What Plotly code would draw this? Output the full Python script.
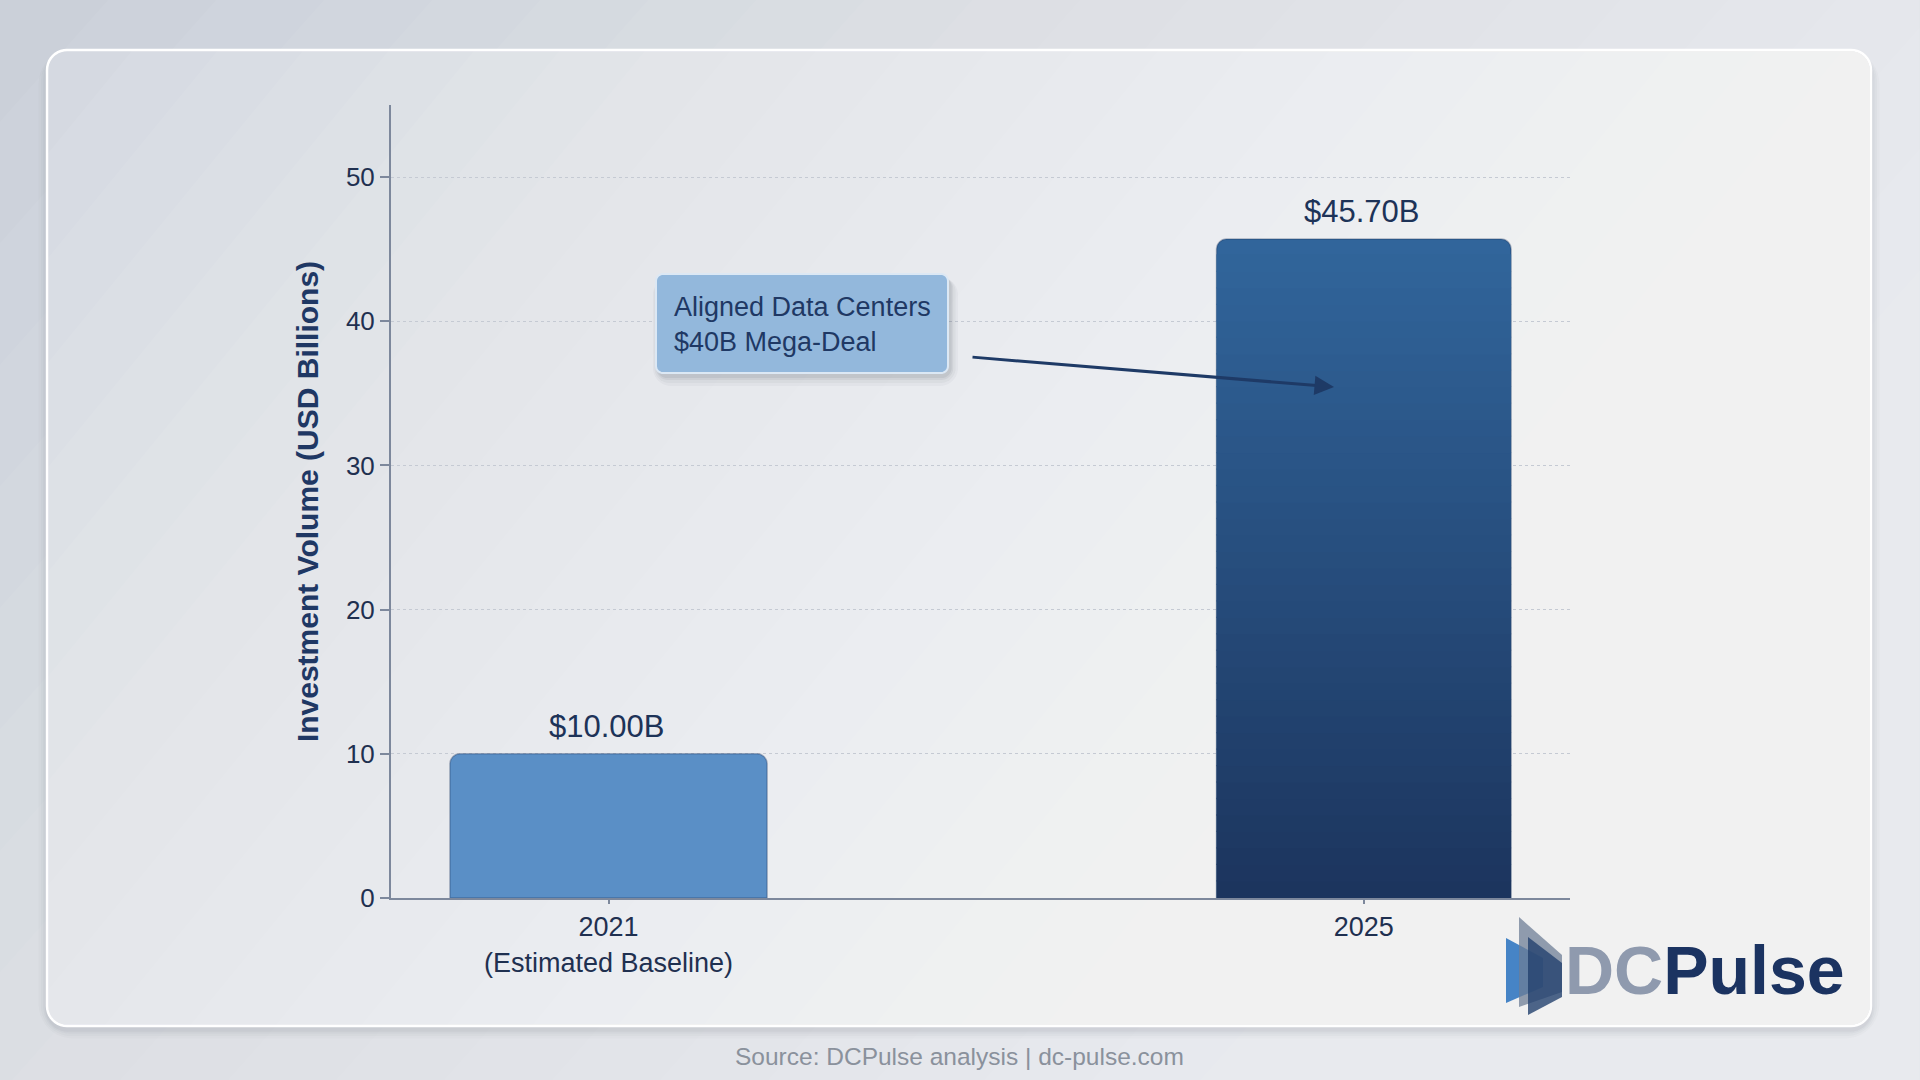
import plotly.graph_objects as go
import math

# ---------------- data ----------------
categories = ["2021<br>(Estimated Baseline)", "2025"]
values = [10.00, 45.70]
value_labels = ["$10.00B", "$45.70B"]
bar_colors = ["#5A8FC6", "#31659B"]          # colour at top of each bar
bar_bottom_colors = [None, "#1C355E"]        # bottom colour for vertical gradient (None = flat)
bar_widths = [0.42, 0.39]
y_ticks = [0, 10, 20, 30, 40, 50]
y_title = "Investment Volume (USD Billions)"
callout_text = "Aligned Data Centers<br>$40B Mega-Deal"
source_text = "Source: DCPulse analysis | dc-pulse.com"

FONT = "Liberation Sans, Arial, Helvetica, sans-serif"

# ---------------- geometry helpers (pixel -> paper) ----------------
W, H = 1920, 1080
L, R, T, B = 391, 1570, 105, 898


def px(x):
    return (x - L) / (R - L)


def py(y):
    return (B - y) / (B - T)


def path_from_pixels(points):
    pts = [(px(x), py(y)) for x, y in points]
    s = f"M {pts[0][0]:.5f},{pts[0][1]:.5f} "
    s += " ".join(f"L {a:.5f},{b:.5f}" for a, b in pts[1:])
    return s + " Z"


def rrect_pts(x0, y0, x1, y1, r, n=10):
    pts = []
    corners = [(x1 - r, y0 + r, -90, 0), (x1 - r, y1 - r, 0, 90),
               (x0 + r, y1 - r, 90, 180), (x0 + r, y0 + r, 180, 270)]
    for cx, cy, a0, a1 in corners:
        for k in range(n + 1):
            a = math.radians(a0 + (a1 - a0) * k / n)
            pts.append((cx + r * math.cos(a), cy + r * math.sin(a)))
    return pts


def clip_halfplane(pts, f, c):
    """keep part of polygon where f(p) >= c"""
    out = []
    m = len(pts)
    for i in range(m):
        p, q = pts[i], pts[(i + 1) % m]
        fp, fq = f(p) - c, f(q) - c
        if fp >= 0:
            out.append(p)
        if (fp >= 0) != (fq >= 0):
            t = fp / (fp - fq)
            out.append((p[0] + t * (q[0] - p[0]), p[1] + t * (q[1] - p[1])))
    return out


def hex2rgb(h):
    h = h.lstrip("#")
    return tuple(int(h[i:i + 2], 16) for i in (0, 2, 4))


shapes = []


def add_poly(points, fill, layer="below", line=None):
    if len(points) < 3:
        return
    shapes.append(dict(type="path", path=path_from_pixels(points), xref="paper", yref="paper",
                       fillcolor=fill, line=line or dict(width=0), layer=layer))


# ---- page background gradient (diagonal) ----
page = [(0, 0), (W, 0), (W, H), (0, H)]
page_f = lambda p: p[0] / W * 0.8 + p[1] / H * 0.4
NP = 20
for i in range(1, NP + 1):
    add_poly(clip_halfplane(page, page_f, 0.9 * i / NP), "rgba(255,255,255,0.055)")

# ---- card shadow ----
for k, a in [(14, 0.025), (10, 0.03), (6, 0.04), (3, 0.05)]:
    add_poly(rrect_pts(47 - k * 0.6, 50 - k * 0.3 + 4, 1871 + k * 0.6, 1026 + k * 0.6 + 4, 20 + k),
             f"rgba(70,80,100,{a})")

# ---- card with gradient ----
card = rrect_pts(47, 50, 1871, 1026, 20)
add_poly(card, "#D5D9E1", line=dict(color="#FFFFFF", width=2.5))
card_f = lambda p: (p[0] - 47) / 1824 * 0.8 + (p[1] - 50) / 976 * 0.35
NC = 24
for i in range(1, NC + 1):
    add_poly(clip_halfplane(card, card_f, 0.9 * i / NC), "rgba(255,255,255,0.068)")

# ---- callout box (soft shadow + box) ----
for k, a in [(10, 0.03), (7, 0.04), (4, 0.06), (2, 0.07)]:
    add_poly(rrect_pts(656 - k * 0.5 + 2, 274 + 3, 948 + k * 0.8 + 2, 373 + k + 3, 8 + k),
             f"rgba(30,40,60,{a})", layer="above")
add_poly(rrect_pts(656, 274, 948, 373, 7), "#93B8DC", layer="above",
         line=dict(color="#DCE8F4", width=2))

# ---- logo icon ----
add_poly([(1506, 938), (1543, 958), (1543, 987), (1506, 1003)], "rgba(60,125,195,0.95)", layer="above")
add_poly([(1519, 917), (1562, 955), (1562, 992), (1519, 1007)], "rgba(110,125,150,0.75)", layer="above")
add_poly([(1528, 937), (1562, 963), (1562, 997), (1528, 1015)], "rgba(35,65,110,0.80)", layer="above")

# ---- vertical gradient on bars: opaque bands derived from the bar values ----
NB = 40
for i, (v, w, top, bot) in enumerate(zip(values, bar_widths, bar_colors, bar_bottom_colors)):
    if bot is None:
        continue
    ct, cb = hex2rgb(top), hex2rgb(bot)
    for j in range(NB - 1):
        t = j / (NB - 1)
        col = tuple(round(cb[k] + (ct[k] - cb[k]) * t) for k in range(3))
        shapes.append(dict(type="rect", xref="x", yref="y", x0=i - w / 2, x1=i + w / 2,
                           y0=v * j / NB, y1=v * (j + 1) / NB + v * 0.002,
                           fillcolor=f"rgb{col}", line=dict(width=0), layer="above"))

fig = go.Figure()

fig.add_trace(go.Bar(
    x=categories,
    y=values,
    width=bar_widths,
    marker=dict(color=bar_colors, line=dict(color="rgba(20,40,80,0.30)", width=1.5)),
    hoverinfo="skip",
))

# value labels above bars
for i, (v, t) in enumerate(zip(values, value_labels)):
    fig.add_annotation(x=i, y=v, text=t, showarrow=False, yanchor="bottom", yshift=8, xshift=-2,
                       font=dict(family=FONT, size=31, color="#1D3358"))

fig.update_layout(shapes=shapes)

# callout text
fig.add_annotation(xref="paper", yref="paper", x=px(672), y=py(324), xanchor="left", yanchor="middle",
                   text=callout_text, showarrow=False, align="left",
                   font=dict(family=FONT, size=27, color="#1F3864"))
# arrow
fig.add_annotation(xref="paper", yref="paper", x=px(1334), y=py(387), ax=971 - 1334, ay=357 - 387,
                   axref="pixel", ayref="pixel", text="", showarrow=True, arrowhead=2, arrowsize=1.3,
                   arrowwidth=3, arrowcolor="#1E3A66")

# logo text
fig.add_annotation(xref="paper", yref="paper", x=px(1563), y=py(970), xanchor="left", yanchor="middle",
                   text="<b><span style='color:#8F9AAE'>DC</span><span style='color:#1B3361'>Pulse</span></b>",
                   showarrow=False, font=dict(family=FONT, size=68))

# source
fig.add_annotation(xref="paper", yref="paper", x=px(959), y=py(1056), xanchor="center", yanchor="middle",
                   text=source_text, showarrow=False,
                   font=dict(family=FONT, size=24.5, color="#8A919C"))

fig.update_layout(
    width=W, height=H,
    margin=dict(l=L, r=W - R, t=T, b=H - B, pad=0),
    paper_bgcolor="#CBD0D9",
    plot_bgcolor="rgba(0,0,0,0)",
    showlegend=False,
    font=dict(family=FONT, color="#1F3050"),
    xaxis=dict(
        type="category", range=[-0.288, 1.273],
        showline=True, linecolor="#7D889C", linewidth=2,
        ticks="outside", ticklen=4, tickcolor="#7D889C", tickwidth=2,
        tickfont=dict(size=27, color="#1F3050"), showgrid=False, zeroline=False,
    ),
    yaxis=dict(
        range=[0, 55], tickvals=y_ticks,
        showline=True, linecolor="#7D889C", linewidth=2,
        ticks="outside", ticklen=9, tickcolor="#7D889C", tickwidth=2,
        tickfont=dict(size=26, color="#1F3050"),
        showgrid=True, gridcolor="#C5CAD3", gridwidth=1, griddash="dot",
        zeroline=False,
        title=dict(text=f"<b>{y_title}</b>", standoff=18,
                   font=dict(size=30, color="#1F3864", family=FONT)),
    ),
    barcornerradius=10,
)

fig.write_html("out.html")
